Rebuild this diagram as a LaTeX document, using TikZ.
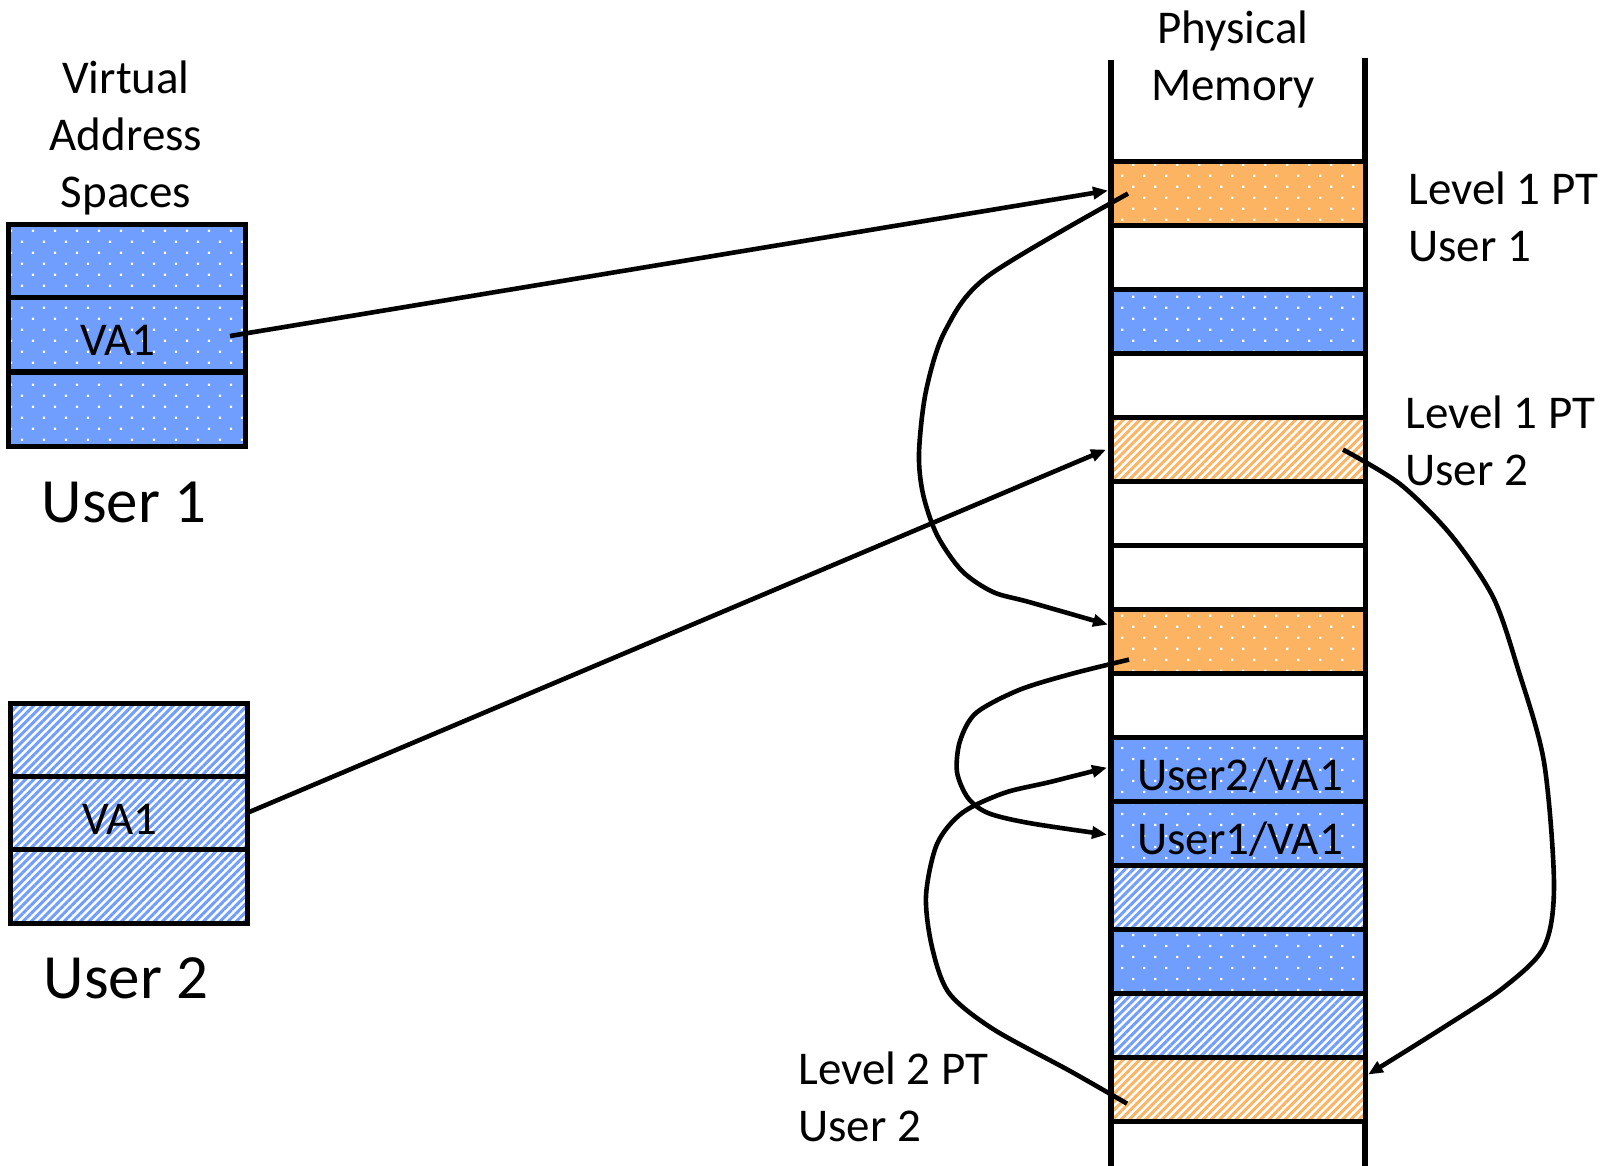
\documentclass[tikz,border=0pt]{standalone}
\usepackage{fontspec}
\setmainfont{Carlito}
\usetikzlibrary{patterns.meta,arrows.meta,calc}
\definecolor{memblue}{RGB}{112,158,255}
\definecolor{memorange}{RGB}{253,180,98}

\tikzset{
  cell/.style={draw=black, line width=2.5pt, minimum width=127pt, minimum height=32pt,
    inner sep=0pt, outer sep=0pt},
  ucell/.style={cell, minimum width=118.5pt, minimum height=37pt},
  dotfill/.style={preaction={fill=#1}, pattern={Dots[distance=7.78pt, angle=45, radius=0.8pt]}, pattern color=white},
  hatchfill/.style={preaction={fill=white}, pattern={Lines[angle=45, distance=2.9pt, line width=1.5pt]}, pattern color=#1},
  bluedots/.style={cell, dotfill=memblue},
  orangedots/.style={cell, dotfill=memorange},
  bluehatch/.style={cell, hatchfill=memblue},
  orangehatch/.style={cell, hatchfill=memorange},
  blank/.style={cell, fill=white},
  label/.style={font=\fontsize{23.5}{28.5}\selectfont, inner sep=0pt},
  biglabel/.style={font=\fontsize{31.5}{38}\selectfont, inner sep=0pt},
  link/.style={line width=2.3pt, -{Triangle[length=7.5pt, width=6pt]}},
  column/.style={line width=3pt}
}

\begin{document}
\begin{tikzpicture}[x=0.5pt, y=-0.5pt]
\useasboundingbox (0,0) rectangle (1614,1166);

% virtual address spaces
\node[label, align=center] (vas) at (126,138) {Virtual\\Address\\Spaces};
\node[ucell, dotfill=memblue] (u1a) at (126.5,261.5) {};
\node[ucell, dotfill=memblue] (u1b) at (126.5,335) {};
\node[ucell, dotfill=memblue] (u1c) at (126.5,410) {};
\node[label] (va1a) at (118,340) {VA1};
\node[biglabel] (user1) at (124,502) {User 1};

\node[ucell, hatchfill=memblue] (u2a) at (128.5,740) {};
\node[ucell, hatchfill=memblue] (u2b) at (128.5,813) {};
\node[ucell, hatchfill=memblue] (u2c) at (128.5,886.5) {};
\node[label] (va1b) at (120,819) {VA1};
\node[biglabel] (user2) at (126,978) {User 2};

% physical memory column
\node[label, align=center] (pm) at (1233,59) {Physical\\Memory};
\draw[column] (1111,60) -- (1111,1166);
\draw[column] (1365,58) -- (1365,1166);
\foreach \i/\s in {0/orangedots,1/blank,2/bluedots,3/blank,4/orangehatch,5/blank,6/blank,
    7/orangedots,8/blank,9/bluedots,10/bluedots,11/bluehatch,12/bluedots,13/bluehatch,14/orangehatch}
  \node[\s] (r\i) at (1238,{193.6+64*\i}) {};
\node[label] (t9) at (1240,775) {User2/VA1};
\node[label] (t10) at (1240,839) {User1/VA1};

% page table labels
\node[label, align=left, anchor=west] (l1u1) at (1408,217) {Level 1 PT\\User 1};
\node[label, align=left, anchor=west] (l1u2) at (1405,441) {Level 1 PT\\User 2};
\node[label, align=left, anchor=west] (l2u2) at (798,1097) {Level 2 PT\\User 2};

% free ends of the connectors
\coordinate (a1) at ($(u1b.east)+(-15,1)$);
\coordinate (b1) at ($(r0.west)+(-3,-3)$);
\coordinate (b2) at ($(r4.west)+(-5,0)$);
\coordinate (a3) at ($(r0.west)+(17,0)$);
\coordinate (b3) at ($(r7.north west)+(-3,15)$);
\coordinate (a4) at ($(r4.east)+(-22,0)$);
\coordinate (b4) at ($(r14.north east)+(3,17)$);
\coordinate (a5) at ($(r7.west)+(18,18)$);
\coordinate (b5) at ($(r10.west)+(-4,1)$);
\coordinate (a6) at ($(r14.west)+(16,14)$);
\coordinate (b6) at ($(r9.west)+(-4,-2)$);

% connectors
\draw[link] (a1) -- (b1);
\draw[link] (u2b.east) -- (b2);
\draw[link] plot[smooth, tension=0.5] coordinates {(a3) (988,276) (945,331) (926,391) (919,453)
  (923,494) (937,535) (962,571) (993,592) (1029,602) (b3)};
\draw[link] plot[smooth, tension=0.5] coordinates {(a4) (1400,484) (1451,535) (1493,597) (1518,669)
  (1544,762) (1554,885) (1544,947) (1503,988) (1441,1029) (b4)};
\draw[link] plot[smooth, tension=0.5] coordinates {(a5) (1071,674) (1019,690) (976,713) (960,741)
  (957,772) (968,798) (988,813) (1029,823) (b5)};
\draw[link] plot[smooth, tension=0.5] coordinates {(a6) (1070,1071) (993,1029) (949,993) (932,947)
  (926,896) (937,844) (962,813) (1004,793) (1050,782) (b6)};
\end{tikzpicture}
\end{document}
